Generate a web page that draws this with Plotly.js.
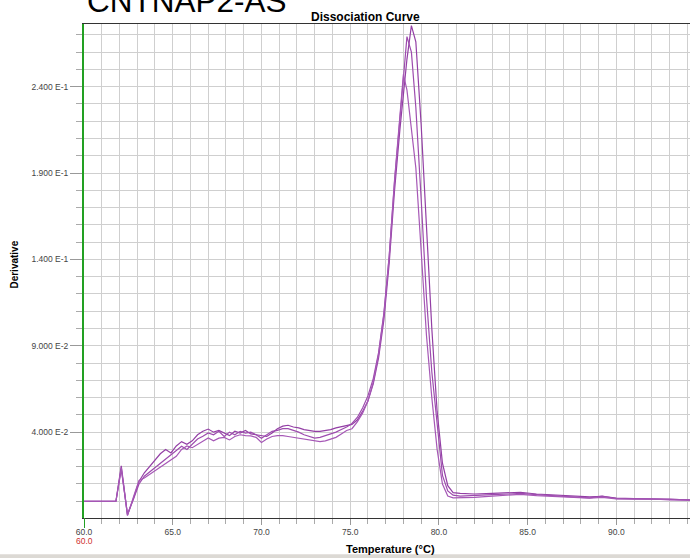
<!DOCTYPE html>
<html>
<head>
<meta charset="utf-8">
<script src="https://cdn.plot.ly/plotly-3.0.1.min.js"></script>
<style>
  html, body { margin: 0; padding: 0; background: #ffffff; }
  #chart { width: 690px; height: 558px; }
</style>
</head>
<body>
<div id="chart"></div>
<script>
// Temperature (°C) sampling points shared by the three wells
const temps = [60.0, 61.8, 62.1, 62.45, 62.8, 63.1,
  63.4, 63.7, 64.0, 64.3, 64.6, 64.9, 65.2, 65.5, 65.8, 66.1, 66.4, 66.7, 67.0, 67.3,
  67.6, 67.9, 68.2, 68.5, 68.8, 69.1, 69.4, 69.7, 70.0, 70.3, 70.6, 70.9, 71.2, 71.5,
  71.8, 72.1, 72.4, 72.7, 73.0, 73.3, 73.6, 73.9, 74.2, 74.5, 74.8, 75.1,
  75.4, 75.7, 76.0, 76.3, 76.6, 76.9, 77.2, 77.5, 77.8, 78.0, 78.2, 78.45,
  78.7, 79.0, 79.3, 79.6, 79.9, 80.2, 80.5, 80.8, 81.2,
  82.0, 83.0, 84.0, 84.6, 85.5, 86.5, 87.5, 88.5, 89.2, 90.0, 91.0, 92.0, 93.0, 94.2];

const deriv1 = [0.0, 0.0, 0.0205, -0.0080, 0.0020, 0.0115,
  0.0165, 0.0200, 0.0235, 0.0275, 0.0300, 0.0280, 0.0320, 0.0345, 0.0330, 0.0350, 0.0385, 0.0405, 0.0418, 0.0400,
  0.0410, 0.0395, 0.0380, 0.0405, 0.0395, 0.0410, 0.0390, 0.0385, 0.0380, 0.0375, 0.0395, 0.0420, 0.0435, 0.0440,
  0.0430, 0.0425, 0.0415, 0.0410, 0.0405, 0.0405, 0.0408, 0.0415, 0.0425, 0.0432, 0.0438, 0.0445,
  0.0470, 0.0520, 0.0580, 0.0680, 0.0830, 0.1050, 0.1380, 0.1800, 0.2150, 0.2370, 0.2560, 0.2754,
  0.2660, 0.2180, 0.1600, 0.1000, 0.0520, 0.0220, 0.0090, 0.0050, 0.0045,
  0.0042, 0.0045, 0.0048, 0.0052, 0.0042, 0.0035, 0.0030, 0.0025, 0.0028, 0.0018, 0.0015, 0.0012, 0.0010, 0.0008];

const deriv2 = [0.0, 0.0, 0.0185, -0.0075, 0.0015, 0.0100,
  0.0145, 0.0170, 0.0195, 0.0220, 0.0245, 0.0270, 0.0295, 0.0318, 0.0300, 0.0330, 0.0360, 0.0376, 0.0395, 0.0385,
  0.0405, 0.0375, 0.0400, 0.0385, 0.0405, 0.0395, 0.0400, 0.0385, 0.0365, 0.0385, 0.0405, 0.0410, 0.0420, 0.0420,
  0.0410, 0.0400, 0.0385, 0.0375, 0.0366, 0.0370, 0.0380, 0.0390, 0.0400, 0.0415, 0.0430, 0.0450,
  0.0485, 0.0540, 0.0610, 0.0710, 0.0860, 0.1090, 0.1420, 0.1850, 0.2210, 0.2450, 0.2690, 0.2600,
  0.2280, 0.1750, 0.1180, 0.0750, 0.0434, 0.0150, 0.0060, 0.0035, 0.0030,
  0.0032, 0.0038, 0.0042, 0.0045, 0.0038, 0.0030, 0.0025, 0.0020, 0.0030, 0.0015, 0.0014, 0.0010, 0.0012, 0.0006];

const deriv3 = [0.0, 0.0, 0.0195, -0.0083, 0.0030, 0.0120,
  0.0135, 0.0155, 0.0178, 0.0198, 0.0215, 0.0240, 0.0260, 0.0300, 0.0320, 0.0310, 0.0330, 0.0347, 0.0366, 0.0350,
  0.0365, 0.0370, 0.0355, 0.0375, 0.0385, 0.0380, 0.0378, 0.0370, 0.0340, 0.0360, 0.0375, 0.0380, 0.0380, 0.0375,
  0.0370, 0.0365, 0.0360, 0.0352, 0.0347, 0.0345, 0.0350, 0.0360, 0.0370, 0.0390, 0.0410, 0.0420,
  0.0460, 0.0510, 0.0580, 0.0690, 0.0850, 0.1080, 0.1420, 0.1860, 0.2250, 0.2472, 0.2380, 0.2170,
  0.1930, 0.1450, 0.0960, 0.0600, 0.0300, 0.0100, 0.0030, 0.0020, 0.0020,
  0.0022, 0.0030, 0.0036, 0.0040, 0.0032, 0.0028, 0.0022, 0.0018, 0.0022, 0.0014, 0.0012, 0.0013, 0.0008, 0.0006];

const xTickVals = [60, 65, 70, 75, 80, 85, 90];
const xTickText = ['60.0', '65.0', '70.0', '75.0', '80.0', '85.0', '90.0'];
const yTickVals = [0.04, 0.09, 0.14, 0.19, 0.24];
const yTickText = ['4.000 E-2', '9.000 E-2', '1.400 E-1', '1.900 E-1', '2.400 E-1'];

const chartTitle = 'CNTNAP2-AS';
const plotTitle = 'Dissociation Curve';
const xTitle = 'Temperature (°C)';
const yTitle = 'Derivative';
const startTempLabel = '60.0';

const lineColors = ['#933fa5', '#9d4cae', '#a658b6'];
const series = [deriv1, deriv2, deriv3];

const traces = series.map((ys, i) => ({
  type: 'scatter',
  mode: 'lines',
  x: temps,
  y: ys,
  line: { color: lineColors[i], width: 1.2 },
  hoverinfo: 'skip',
  showlegend: false
}));

const tickFont = { family: 'Liberation Sans, Arial, sans-serif', size: 8.5, color: '#444444' };

const layout = {
  width: 690,
  height: 558,
  margin: { l: 84, r: 0, t: 24, b: 40, pad: 0 },
  paper_bgcolor: '#ffffff',
  plot_bgcolor: '#ffffff',
  showlegend: false,
  xaxis: {
    range: [60, 94.15],
    tickmode: 'array',
    tickvals: xTickVals,
    ticktext: xTickText,
    ticks: 'outside',
    ticklen: 6,
    tickcolor: '#999999',
    tickfont: tickFont,
    showgrid: true,
    gridcolor: '#cfcfcf',
    gridwidth: 1,
    minor: { tick0: 60, dtick: 1, ticks: 'outside', ticklen: 5, tickcolor: '#aaaaaa', showgrid: true, gridcolor: '#cfcfcf', gridwidth: 1 },
    showline: true,
    linecolor: '#333333',
    linewidth: 1,
    mirror: true,
    zeroline: false,
    fixedrange: true
  },
  yaxis: {
    range: [-0.0097, 0.2763],
    tickmode: 'array',
    tickvals: yTickVals,
    ticktext: yTickText,
    ticks: 'outside',
    ticklen: 12,
    tickcolor: '#999999',
    tickfont: tickFont,
    showgrid: true,
    gridcolor: '#cfcfcf',
    gridwidth: 1,
    minor: { tick0: 0, dtick: 0.01, ticks: 'outside', ticklen: 6, tickcolor: '#aaaaaa', showgrid: true, gridcolor: '#cfcfcf', gridwidth: 1 },
    showline: true,
    linecolor: '#22a022',
    linewidth: 2,
    zeroline: false,
    fixedrange: true
  },
  shapes: [
    { type: 'line', xref: 'x', yref: 'paper', x0: 60, x1: 60, y0: 0, y1: -0.02, line: { color: '#22a022', width: 2 } },
    { type: 'rect', xref: 'paper', yref: 'paper', x0: -0.2, x1: 1.0, y0: -0.0736, y1: -0.09, line: { width: 0 }, fillcolor: '#dcd9d4' }
  ],
  annotations: [
    { text: chartTitle, xref: 'paper', yref: 'paper', x: 0, y: 1, xanchor: 'left', yanchor: 'bottom', xshift: 1, yshift: 3,
      showarrow: false, font: { family: 'Liberation Sans, Arial, sans-serif', size: 31.5, color: '#000000' } },
    { text: '<b>' + plotTitle + '</b>', xref: 'paper', yref: 'paper', x: 0.4653, y: 1, xanchor: 'center', yanchor: 'bottom', yshift: -2,
      showarrow: false, font: { family: 'Liberation Sans, Arial, sans-serif', size: 12, color: '#000000' } },
    { text: '<b>' + xTitle + '</b>', xref: 'paper', yref: 'paper', x: 0.505, y: -0.0634, xanchor: 'center', yanchor: 'middle',
      showarrow: false, font: { family: 'Liberation Sans, Arial, sans-serif', size: 11, color: '#000000' } },
    { text: '<b>' + yTitle + '</b>', xref: 'paper', yref: 'paper', x: -0.1147, y: 0.514, xanchor: 'center', yanchor: 'middle', textangle: -90,
      showarrow: false, font: { family: 'Liberation Sans, Arial, sans-serif', size: 10, color: '#000000' } },
    { text: startTempLabel, xref: 'x', yref: 'paper', x: 60, y: -0.0472, xanchor: 'center', yanchor: 'middle',
      showarrow: false, font: { family: 'Liberation Sans, Arial, sans-serif', size: 8.5, color: '#d03030' } }
  ]
};

Plotly.newPlot('chart', traces, layout, { displayModeBar: false, staticPlot: true });
</script>
</body>
</html>
